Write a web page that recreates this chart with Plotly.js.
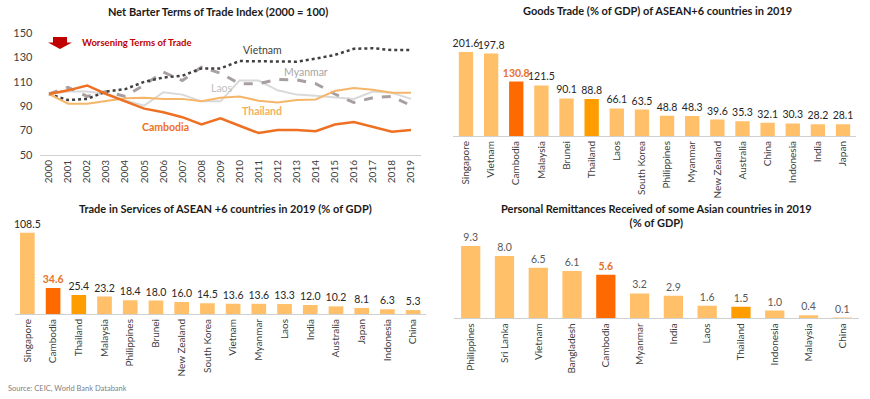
<!DOCTYPE html>
<html><head><meta charset="utf-8">
<script src="https://cdn.plot.ly/plotly-3.0.1.min.js"></script>
<style>html,body{margin:0;padding:0;background:#fff}#chart{width:870px;height:399px}</style>
</head><body><div id="chart"></div>
<script>
// ---------- data ----------
const years = ['2000','2001','2002','2003','2004','2005','2006','2007','2008','2009','2010','2011','2012','2013','2014','2015','2016','2017','2018','2019'];
const totCambodia = [100,103,107,100,94,88,85,81,75,80,74,68,70.5,70.5,69.5,75,77,73,69,70.5];
const totThailand = [100,92,92,94.5,96.5,97,96,96,94,97,98,94.5,93,95,95.5,102.5,105,103.5,101,101];
const totLaos     = [100,102,102,100,95,90.5,101.5,99.5,94,94,111,111,103,99.5,98.5,97,96,102,101,96];
const totMyanmar  = [100,105.5,98,102,98,107.5,118,111,122,117,108.5,108.5,112,111.5,108.5,100,93,97,98,90.5];
const totVietnam  = [100,95,96,102,104,110,113.5,115,121,121,127,127,126.5,126.5,129,132,137,137.5,136,136];

const goodsCountries = ['Singapore','Vietnam','Cambodia','Malaysia','Brunei','Thailand','Laos','South Korea','Philippines','Myanmar','New Zealand','Australia','China','Indonesia','India','Japan'];
const goodsValues = [201.6,197.8,130.8,121.5,90.1,88.8,66.1,63.5,48.8,48.3,39.6,35.3,32.1,30.3,28.2,28.1];

const servCountries = ['Singapore','Cambodia','Thailand','Malaysia','Philippines','Brunei','New Zealand','South Korea','Vietnam','Myanmar','Laos','India','Australia','Japan','Indonesia','China'];
const servValues = [108.5,34.6,25.4,23.2,18.4,18.0,16.0,14.5,13.6,13.6,13.3,12.0,10.2,8.1,6.3,5.3];

const remitCountries = ['Philippines','Sri Lanka','Vietnam','Bangladesh','Cambodia','Myanmar','India','Laos','Thailand','Indonesia','Malaysia','China'];
const remitValues = [9.3,8.0,6.5,6.1,5.6,3.2,2.9,1.6,1.5,1.0,0.4,0.1];

// ---------- helpers ----------
const W = 870, H = 399;
const px = v => v / W;
const py = v => 1 - v / H;
const FONT = 'Lato, "Open Sans", sans-serif';

function barColor(c){ return c === 'Cambodia' ? '#FF6A00' : (c === 'Thailand' ? '#FF9D00' : '#FFC069'); }
function barTrace(cats, vals, xa, ya, labelColor){
  return {
    type:'bar', x:cats, y:vals, xaxis:xa, yaxis:ya,
    marker:{color:cats.map(barColor), line:{width:0}},
    text: vals.map((v,i)=> cats[i]==='Cambodia'
      ? '<span style="color:#E8722A"><b>'+v.toFixed(1)+'</b></span>'
      : '<span style="color:'+labelColor+'">'+v.toFixed(1)+'</span>'),
    textposition:'outside', constraintext:'none', cliponaxis:false,
    textfont:{family:FONT, size:10.5, color:labelColor},
    hoverinfo:'x+y', showlegend:false
  };
}

const traces = [
  {x:years, y:totLaos, type:'scatter', mode:'lines', line:{color:'#D9D9D9', width:2}, xaxis:'x', yaxis:'y', showlegend:false},
  {x:years, y:totMyanmar, type:'scatter', mode:'lines', line:{color:'#A8A0A0', width:3, dash:'dash'}, xaxis:'x', yaxis:'y', showlegend:false},
  {x:years, y:totVietnam, type:'scatter', mode:'lines', line:{color:'#404040', width:2.5, dash:'dot'}, xaxis:'x', yaxis:'y', showlegend:false},
  {x:years, y:totThailand, type:'scatter', mode:'lines', line:{color:'#F5B66A', width:2}, xaxis:'x', yaxis:'y', showlegend:false},
  {x:years, y:totCambodia, type:'scatter', mode:'lines', line:{color:'#EE7022', width:2.5}, xaxis:'x', yaxis:'y', showlegend:false},
  barTrace(goodsCountries, goodsValues, 'x2', 'y2', '#262626'),
  barTrace(servCountries, servValues, 'x3', 'y3', '#262626'),
  barTrace(remitCountries, remitValues, 'x4', 'y4', '#595959')
];

const catAxis = (domain, n, anchor) => ({
  domain:domain, anchor:anchor, type:'category', range:[-0.5, n-0.5],
  tickangle:-90, tickfont:{family:FONT, size:10, color:'#404040'},
  showline:true, linecolor:'#D0D0D0', linewidth:1, ticks:'', showgrid:false, zeroline:false, fixedrange:true
});
const hiddenY = (domain, range, anchor) => ({
  domain:domain, anchor:anchor, range:range, autorange:false, visible:false, showgrid:false, zeroline:false, fixedrange:true
});

const titleFont = {family:FONT, size:11, color:'#1A1A1A', weight:700};
const lab = (text, x, y, color, bold, size) => ({
  xref:'x', yref:'y', x:x, y:y, text: bold ? '<b>'+text+'</b>' : text, showarrow:false,
  font:{family:FONT, size:size||10.5, color:color}, xanchor:'center', yanchor:'middle'
});

const layout = {
  width:W, height:H, margin:{l:0,r:0,t:0,b:0},
  paper_bgcolor:'#fff', plot_bgcolor:'rgba(0,0,0,0)', bargap:0.43, showlegend:false,
  font:{family:FONT},
  xaxis: catAxis([px(39.5), px(420.5)], 20, 'y'),
  yaxis: {domain:[py(155), py(33)], anchor:'x', range:[50,150], dtick:20, tick0:50, showgrid:false, zeroline:false,
          showline:false, ticks:'', tickfont:{family:FONT, size:11, color:'#404040'}, ticklabelstandoff:6, fixedrange:true},
  xaxis2: catAxis([px(453.4), px(855.6)], 16, 'y2'),
  yaxis2: hiddenY([py(136), py(40)], [0, 230.4], 'x2'),
  xaxis3: catAxis([px(14.5), px(426)], 16, 'y3'),
  yaxis3: hiddenY([py(314), py(215)], [0, 132.1], 'x3'),
  xaxis4: catAxis([px(453.8), px(859.2)], 12, 'y4'),
  yaxis4: hiddenY([py(318.3), py(235)], [0, 10.715], 'x4'),
  shapes: [
    {type:'path', xref:'paper', yref:'paper', fillcolor:'#C00000', line:{width:0},
     path:'M '+px(53)+' '+py(37)+' L '+px(67)+' '+py(37)+' L '+px(67)+' '+py(42.5)+' L '+px(72)+' '+py(42.5)+' L '+px(60)+' '+py(49)+' L '+px(48)+' '+py(42.5)+' L '+px(53)+' '+py(42.5)+' Z'}
  ],
  annotations: [
    {xref:'paper', yref:'paper', x:px(217.5), y:py(11), text:'<b>Net Barter Terms of Trade Index (2000 = 100)</b>', showarrow:false, font:titleFont, xanchor:'center', yanchor:'middle'},
    {xref:'paper', yref:'paper', x:px(657), y:py(10), text:'<b>Goods Trade (% of GDP) of ASEAN+6 countries in 2019</b>', showarrow:false, font:titleFont, xanchor:'center', yanchor:'middle'},
    {xref:'paper', yref:'paper', x:px(226), y:py(208), text:'<b>Trade in Services of ASEAN +6 countries in 2019 (% of GDP)</b>', showarrow:false, font:titleFont, xanchor:'center', yanchor:'middle'},
    {xref:'paper', yref:'paper', x:px(656), y:py(215), text:'<b>Personal Remittances Received of some Asian countries in 2019<br>(% of GDP)</b>', showarrow:false, font:titleFont, xanchor:'center', yanchor:'middle'},
    {xref:'paper', yref:'paper', x:px(6), y:py(388), text:'Source: CEIC, World Bank Databank', showarrow:false, font:{family:FONT, size:7.5, color:'#7F7F7F'}, xanchor:'left', yanchor:'middle'},
    {xref:'paper', yref:'paper', x:px(80), y:py(42), text:'<b>Worsening Terms of Trade</b>', showarrow:false, font:{family:FONT, size:9.5, color:'#C00000'}, xanchor:'left', yanchor:'middle'},
    lab('Vietnam', 11.2, 136, '#404040', false, 10.5),
    lab('Myanmar', 13.5, 118, '#A6A6A6', false, 10.5),
    lab('Laos', 9.1, 105, '#BFBFBF', false, 10.5),
    lab('Thailand', 11.2, 86, '#F2B25E', true, 10.5),
    lab('Cambodia', 6.1, 73, '#EE7022', true, 10.5)
  ]
};

Plotly.newPlot('chart', traces, layout, {staticPlot:true, displayModeBar:false});
</script>
</body></html>
